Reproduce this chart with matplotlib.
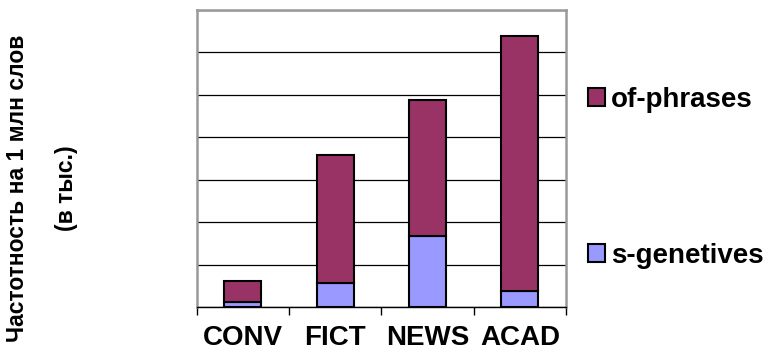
import matplotlib
matplotlib.use("Agg")
import matplotlib.pyplot as plt
from matplotlib.ticker import FixedLocator

categories = ["CONV", "FICT", "NEWS", "ACAD"]
s_genetives = [0.11, 0.57, 1.68, 0.38]
of_phrases_total = [0.62, 3.58, 4.89, 6.39]
of_phrases = [t - s for t, s in zip(of_phrases_total, s_genetives)]

plt.rcParams['font.family'] = ['Liberation Sans', 'DejaVu Sans']

fig = plt.figure(figsize=(7.74, 3.53), dpi=100)
ax = fig.add_axes([196.7/774, 1-307/353, (566-196.7)/774, (307-10)/353])

x = list(range(len(categories)))
b1 = ax.bar(x, s_genetives, width=0.4, color="#9999FF", edgecolor="black", linewidth=1.5, zorder=3, label="s-genetives")
b2 = ax.bar(x, of_phrases, bottom=s_genetives, width=0.4, color="#993366", edgecolor="black", linewidth=1.5, zorder=3, label="of-phrases")

ax.set_xlim(-0.5, 3.5)
ax.set_ylim(0, 7)
ax.set_yticks(range(0, 8))
ax.yaxis.grid(True, color="black", linewidth=0.9)
ax.set_axisbelow(True)
ax.tick_params(axis="y", length=0, labelleft=False)

ax.set_xticks(x)
ax.set_xticklabels(categories, fontsize=20, fontweight="bold")
ax.xaxis.set_minor_locator(FixedLocator([-0.5, 0.5, 1.5, 2.5, 3.5]))
ax.tick_params(axis="x", which="major", length=0, pad=13)
ax.tick_params(axis="x", which="minor", length=6, width=1, color="black", direction="out")

for s in ["left", "top", "right"]:
    ax.spines[s].set_color("#999999")
    ax.spines[s].set_linewidth(1.8)
ax.spines["bottom"].set_color("black")
ax.spines["bottom"].set_linewidth(1)

fig.legend([b2, b1], ["of-phrases", "s-genetives"], loc="center left",
           bbox_to_anchor=(588/774, 1-178/353), frameon=False,
           prop={"size": 20, "weight": "bold"}, handlelength=0.62, handleheight=0.62,
           handletextpad=0.2, labelspacing=4.68, borderaxespad=0, borderpad=0)

fig.text(18/774, 1-188/353, "Частотность на 1 млн слов", rotation=90, ha="center", va="center",
         fontsize=16.5, fontweight="bold")
fig.text(66/774, 1-188/353, "(в тыс.)", rotation=90, ha="center", va="center",
         fontsize=16.5, fontweight="bold")

fig.savefig("out.png", dpi=100)
